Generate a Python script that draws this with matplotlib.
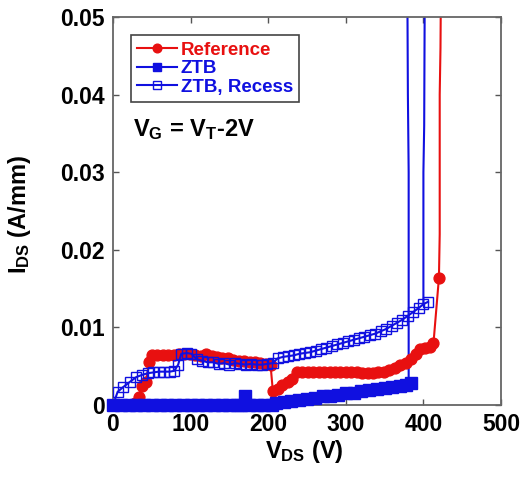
import matplotlib
matplotlib.use("Agg")
import matplotlib.pyplot as plt

plt.rcParams['font.family'] = 'Liberation Sans'
plt.rcParams['font.weight'] = 'bold'
plt.rcParams['axes.labelweight'] = 'bold'
plt.rcParams['mathtext.fontset'] = 'custom'
plt.rcParams['mathtext.rm'] = 'Liberation Sans:bold'
plt.rcParams['mathtext.it'] = 'Liberation Sans:bold'
plt.rcParams['mathtext.bf'] = 'Liberation Sans:bold'

ROUGE = '#e81010'
BLEU = '#1010e0'

# Reference (cercles pleins)
v_ref = [0, 10, 20, 28, 33, 37, 42, 47, 50, 57, 64, 71, 78, 85, 92, 99, 106, 113,
         120, 127, 134, 141, 148, 155, 162, 169, 176, 183, 190, 197, 203, 206, 212,
         218, 225, 231, 237, 244, 251, 258, 265, 272, 279, 286, 293, 300, 307, 314,
         321, 328, 335, 342, 349, 356, 363, 370, 377, 384, 390, 396, 402, 409, 413, 420]
i_ref = [0, 0, 0, 0.0002, 0.001, 0.0024, 0.003, 0.0055, 0.0064, 0.0065, 0.0065, 0.0065,
         0.0064, 0.0066, 0.0066, 0.0066, 0.0064, 0.0063, 0.0066, 0.0063, 0.0062, 0.0060,
         0.0060, 0.0058, 0.0057, 0.0057, 0.0055, 0.0055, 0.0054, 0.0053, 0.0052, 0.0018,
         0.0020, 0.0026, 0.0030, 0.0033, 0.0042, 0.0043, 0.0043, 0.0043, 0.0043, 0.0043,
         0.0043, 0.0043, 0.0042, 0.0042, 0.0042, 0.0042, 0.0041, 0.0041, 0.0041, 0.0042,
         0.0043, 0.0045, 0.0048, 0.0051, 0.0054, 0.0059, 0.0066, 0.0072, 0.0074, 0.0075,
         0.0080, 0.0164]
# montee verticale (claquage), sans marqueurs
v_ref_fin = [420, 421, 421, 422, 423]
i_ref_fin = [0.0164, 0.022, 0.040, 0.046, 0.06]

# ZTB (carres pleins)
v_ztb = [0, 10, 20, 30, 40, 50, 60, 70, 80, 90, 100, 110, 120, 130, 140, 150, 160, 165,
         170, 175, 185, 195, 205, 210, 220, 230, 240, 250, 260, 270, 280, 290, 300, 310,
         320, 330, 340, 350, 360, 370, 378, 384]
i_ztb = [0, 0, 0, 0, 0, 0, 0, 0, 0, 0, 0, 0, 0, 0, 0, 0, 0, 0, 0.0012, 0, 0, 0, 0,
         0.0003, 0.0004, 0.0005, 0.0007, 0.0008, 0.0009, 0.0011, 0.0012, 0.0013, 0.0015,
         0.0016, 0.0018, 0.0019, 0.0021, 0.0022, 0.0023, 0.0025, 0.0026, 0.0028]
v_ztb_fin = [384, 381, 381, 380, 379]
i_ztb_fin = [0.0028, 0.003, 0.030, 0.040, 0.06]

# ZTB, Recess (carres vides)
v_rec = [0, 6, 13, 22, 30, 38, 45, 52, 59, 66, 73, 79, 84, 88, 95, 101, 108, 115, 122,
         129, 136, 143, 150, 157, 164, 171, 178, 185, 192, 199, 206, 212, 219, 226, 233,
         240, 247, 254, 261, 268, 275, 282, 289, 296, 303, 310, 317, 324, 331, 338, 345,
         352, 359, 366, 373, 380, 387, 394, 400, 406]
i_rec = [0, 0.0017, 0.0023, 0.0030, 0.0036, 0.0039, 0.0041, 0.0042, 0.0043, 0.0043,
         0.0043, 0.0044, 0.0052, 0.0066, 0.0067, 0.0066, 0.0059, 0.0057, 0.0055, 0.0055,
         0.0053, 0.0054, 0.0052, 0.0054, 0.0053, 0.0052, 0.0053, 0.0052, 0.0052, 0.0053,
         0.0054, 0.0060, 0.0062, 0.0063, 0.0064, 0.0066, 0.0067, 0.0068, 0.0070, 0.0072,
         0.0074, 0.0076, 0.0078, 0.0080, 0.0082, 0.0084, 0.0086, 0.0088, 0.0090, 0.0092,
         0.0095, 0.0098, 0.0102, 0.0106, 0.0110, 0.0115, 0.0120, 0.0125, 0.0130, 0.0133]
v_rec_fin = [400, 400, 401, 402]
i_rec_fin = [0.0130, 0.030, 0.036, 0.06]

fig = plt.figure(figsize=(5.26, 4.84), dpi=100)
ax = fig.add_axes([0.2148, 0.1632, 0.7377, 0.8017])

ax.plot(v_ref_fin, i_ref_fin, '-', color=ROUGE, lw=1.5)
ax.plot(v_ztb_fin, i_ztb_fin, '-', color=BLEU, lw=1.5)
ax.plot(v_rec_fin, i_rec_fin, '-', color=BLEU, lw=1.5)

ax.plot(v_rec, i_rec, '-s', color=BLEU, mfc='none', mec=BLEU, ms=7.5, mew=1.0,
        lw=1.5, label='ZTB, Recess', zorder=3)
ax.plot(v_ref, i_ref, '-o', color=ROUGE, mfc=ROUGE, mec=ROUGE, ms=7.8, lw=1.5,
        label='Reference', zorder=2)
ax.plot(v_ztb, i_ztb, '-s', color=BLEU, mfc=BLEU, mec=BLEU, ms=8, lw=1.5,
        label='ZTB', zorder=4, clip_on=False)

ax.set_xlim(0, 500)
ax.set_ylim(0, 0.05)
ax.set_xticks([0, 100, 200, 300, 400, 500])
ax.set_yticks([0, 0.01, 0.02, 0.03, 0.04, 0.05])
ax.set_yticklabels(['0', '0.01', '0.02', '0.03', '0.04', '0.05'])
ax.tick_params(direction='in', length=4, width=1, colors='#555555',
               labelcolor='black', labelsize=16.5, top=True, right=True, pad=6)
for s in ax.spines.values():
    s.set_color('#666666')
    s.set_linewidth(1.3)

ax.set_xlabel(r'V$_{\rm DS}$ (V)', fontsize=17, fontweight='bold')
ax.set_ylabel(r'I$_{\rm DS}$ (A/mm)', fontsize=17, fontweight='bold')
ax.xaxis.set_label_coords(0.492, -0.085)
ax.yaxis.set_label_coords(-0.205, 0.49)

ax.text(0.052, 0.709, r'V$_{\rm G}$ = V$_{\rm T}$-2V', transform=ax.transAxes,
        fontsize=17, va='center', ha='left')

h, l = ax.get_legend_handles_labels()
ordre = [1, 2, 0]
leg = ax.legend([h[k] for k in ordre], [l[k] for k in ordre], loc='upper left',
                bbox_to_anchor=(0.046, 0.954), borderaxespad=0, fontsize=13.5,
                handlelength=2.1, handletextpad=0.2, labelspacing=0.08,
                borderpad=0.35, fancybox=False, framealpha=1, edgecolor='#444444',
                markerscale=0.8)
leg.get_frame().set_linewidth(1.2)
for t, c in zip(leg.get_texts(), [ROUGE, BLEU, BLEU]):
    t.set_color(c)

plt.savefig('out.png', dpi=100)
